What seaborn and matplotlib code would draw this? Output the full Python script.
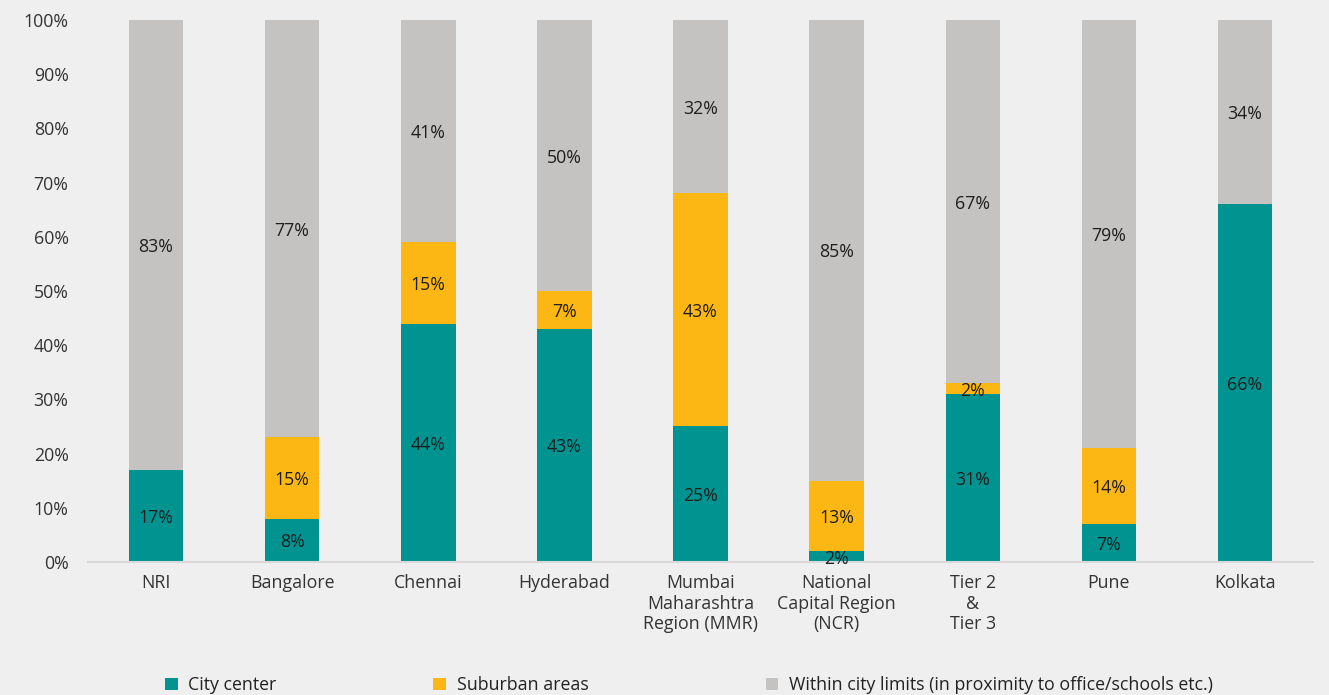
import numpy as np
import pandas as pd
import matplotlib
matplotlib.use("Agg")
import matplotlib.pyplot as plt
from matplotlib.patches import Patch
import seaborn as sns

# Preferred residential location by market (share of respondents, %)
categories = [
    "NRI",
    "Bangalore",
    "Chennai",
    "Hyderabad",
    "Mumbai\nMaharashtra\nRegion (MMR)",
    "National\nCapital Region\n(NCR)",
    "Tier 2\n&\nTier 3",
    "Pune",
    "Kolkata",
]
city_center = [17, 8, 44, 43, 25, 2, 31, 7, 66]
suburban = [0, 15, 15, 7, 43, 13, 2, 14, 0]
within_limits = [83, 77, 41, 50, 32, 85, 67, 79, 34]

series_names = [
    "City center",
    "Suburban areas",
    "Within city limits (in proximity to office/schools etc.)",
]
series_values = [city_center, suburban, within_limits]
series_colors = ["#00938F", "#FDB714", "#C4C3C1"]
y_ticks = [0, 10, 20, 30, 40, 50, 60, 70, 80, 90, 100]

BG = "#EFEFEF"
FONT = ["Open Sans", "DejaVu Sans"]
FS = 12.8

sns.set_theme(style="white")
plt.rcParams["font.family"] = FONT
plt.rcParams["text.color"] = "#222222"

fig = plt.figure(figsize=(13.29, 6.95), dpi=100, facecolor=BG)
ax = fig.add_axes([0.0662, 0.1914, 0.9218, 0.7798])
ax.set_facecolor(BG)

bottom = np.zeros(len(categories))
for name, vals, col in zip(series_names, series_values, series_colors):
    vals = np.array(vals, dtype=float)
    df = pd.DataFrame({"cat": categories, "val": vals})
    sns.barplot(data=df, x="cat", y="val", color=col, bottom=bottom,
                width=0.4, saturation=1, ax=ax, edgecolor="none",
                linewidth=0, errorbar=None)
    for i, v in enumerate(vals):
        if v > 0:
            ax.text(i, bottom[i] + v / 2, f"{int(v)}%", ha="center",
                    va="center_baseline", fontsize=FS, color="#1E1E1E")
    bottom = bottom + vals

ax.set_xlim(-0.5, len(categories) - 0.5)
ax.set_ylim(0, 100)
ax.set_yticks(y_ticks)
ax.set_yticklabels([f"{t}%" for t in y_ticks], fontsize=FS, color="#333333")
ax.tick_params(axis="x", labelsize=FS, colors="#333333", length=0, pad=9)
ax.tick_params(axis="y", length=0, pad=14)
for lbl in ax.get_xticklabels():
    lbl.set_linespacing(1.15)
ax.set_xlabel("")
ax.set_ylabel("")
for s in ["top", "right", "left"]:
    ax.spines[s].set_visible(False)
ax.spines["bottom"].set_color("#D9D9D9")
ax.spines["bottom"].set_linewidth(1.5)

# Legend entries laid out along the bottom edge
legend_x = [0.124, 0.326, 0.576]
for name, col, lx in zip(series_names, series_colors, legend_x):
    fig.legend(handles=[Patch(facecolor=col, edgecolor="none", label=name)],
               loc="center left", bbox_to_anchor=(lx, 0.014), frameon=False,
               fontsize=FS, handlelength=0.72, handleheight=0.72,
               handletextpad=0.6, borderpad=0, borderaxespad=0)

fig.savefig("out.png", dpi=100, facecolor=BG)
